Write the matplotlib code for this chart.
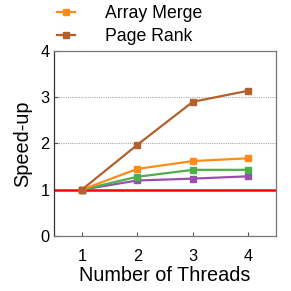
import matplotlib
matplotlib.use("Agg")
import matplotlib.pyplot as plt
from matplotlib.lines import Line2D

plt.rcParams['font.family'] = ['Liberation Sans', 'DejaVu Sans']

threads = [1, 2, 3, 4]
array_merge = [1.0, 1.45, 1.62, 1.68]
page_rank = [1.0, 1.97, 2.90, 3.14]
series_green = [1.0, 1.28, 1.43, 1.43]
series_purple = [1.0, 1.20, 1.24, 1.29]

c_orange = '#ff8c1a'
c_brown = '#b3602c'
c_green = '#4daf4a'
c_purple = '#9a4fae'

fig = plt.figure(figsize=(2.91, 2.91), dpi=100)
ax = fig.add_axes([0.1856, 0.189, 0.763, 0.636])

ax.axhline(1, color='#ff0000', lw=1.8, zorder=2)
for yv in (2, 3):
    ax.axhline(yv, color='#aaaaaa', lw=0.8, ls=(0, (1, 1)), zorder=1)

kw = dict(marker='s', ms=4.5, lw=1.6, zorder=3)
ax.plot(threads, series_purple, color=c_purple, **kw)
ax.plot(threads, series_green, color=c_green, **kw)
ax.plot(threads, array_merge, color=c_orange, **kw)
ax.plot(threads, page_rank, color=c_brown, **kw)

ax.set_xlim(0.5, 4.5)
ax.set_ylim(0, 4)
ax.set_xticks(threads)
ax.set_yticks([0, 1, 2, 3, 4])
ax.tick_params(axis='both', direction='in', labelsize=11.8, length=3,
               color='#555555')
ax.tick_params(axis='x', pad=9)
ax.tick_params(axis='y', pad=3)
for side, s in ax.spines.items():
    s.set_color('#333333' if side == 'left' else '#777777')
    s.set_linewidth(0.9)

ax.set_xlabel('Number of Threads', fontsize=14.3, labelpad=2)
ax.set_ylabel('Speed-up', fontsize=14.3, labelpad=6)

handles = [Line2D([], [], color=c_orange, marker='s', ms=4.5, lw=1.6),
           Line2D([], [], color=c_brown, marker='s', ms=4.5, lw=1.6)]
fig.legend(handles, ['Array Merge', 'Page Rank'], loc='upper left',
           bbox_to_anchor=(0.141, 1.037), frameon=False, fontsize=12.7,
           handlelength=1.0, handletextpad=1.7, labelspacing=0.32)

fig.savefig('out.png', dpi=100)
